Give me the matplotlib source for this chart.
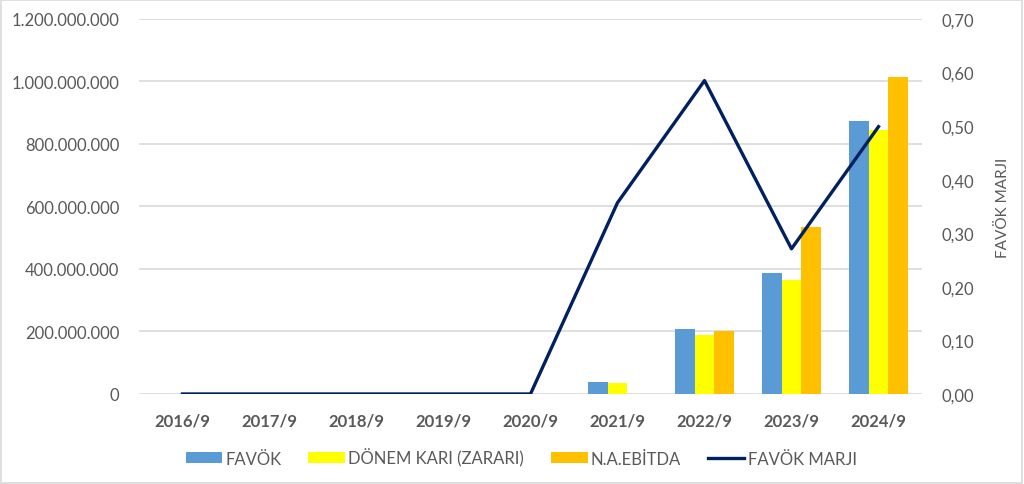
import matplotlib.pyplot as plt
import numpy as np
from matplotlib.ticker import FuncFormatter
from matplotlib.patches import Rectangle

plt.rcParams['font.family'] = ['Lato', 'DejaVu Sans']

# data
years = ['2016/9', '2017/9', '2018/9', '2019/9', '2020/9', '2021/9', '2022/9', '2023/9', '2024/9']
favok = [0, 0, 0, 0, 0, 37e6, 207e6, 387e6, 873e6]
donem_kari = [0, 0, 0, 0, 0, 35e6, 189e6, 365e6, 846e6]
na_ebitda = [0, 0, 0, 0, 0, 0, 202e6, 533e6, 1013e6]
favok_marji = [0, 0, 0, 0, 0, 0.357, 0.585, 0.271, 0.499]

grey = '#595959'
fig = plt.figure(figsize=(10.24, 4.85), dpi=100)
fig.patches.append(Rectangle((0.001, 0.002), 0.997, 0.995, transform=fig.transFigure,
                             fill=False, edgecolor='#d9d9d9', linewidth=1.2))
ax = fig.add_axes([0.1357, 0.1856, 0.7647, 0.7732])

x = np.arange(len(years))
w = 0.225
ax.bar(x - w, favok, w, color='#5B9BD5', label='FAVÖK', zorder=3)
ax.bar(x, donem_kari, w, color='#FFFF00', label='DÖNEM KARI (ZARARI)', zorder=3)
ax.bar(x + w, na_ebitda, w, color='#FFC000', label='N.A.EBİTDA', zorder=3)

ax.set_xlim(-0.5, len(years) - 0.5)
ax.set_ylim(0, 1.2e9)
ax.set_yticks(np.arange(0, 1.2e9 + 1, 2e8))
ax.yaxis.set_major_formatter(FuncFormatter(lambda v, p: f'{int(v):,}'.replace(',', '.')))
ax.grid(axis='y', color='#d9d9d9', linewidth=1.2, zorder=0)
ax.set_xticks(x)
ax.set_xticklabels(years, fontweight='bold')
for s in ax.spines.values():
    s.set_visible(False)
ax.tick_params(length=0, colors=grey, labelsize=12)
ax.tick_params(axis='x', pad=13)
ax.tick_params(axis='y', pad=14)

ax2 = ax.twinx()
ax2.plot(x, favok_marji, color='#002060', linewidth=2.4, label='FAVÖK MARJI', zorder=4)
ax2.set_ylim(0, 0.7)
ax2.set_yticks(np.arange(0, 0.71, 0.1))
ax2.yaxis.set_major_formatter(FuncFormatter(lambda v, p: f'{v:.2f}'.replace('.', ',')))
for s in ax2.spines.values():
    s.set_visible(False)
ax2.tick_params(length=0, colors=grey, labelsize=12, pad=14)
ax2.set_ylabel('FAVÖK MARJI', color=grey, fontsize=11, labelpad=16)

h1, l1 = ax.get_legend_handles_labels()
h2, l2 = ax2.get_legend_handles_labels()
fig.legend(h1 + h2, l1 + l2, loc='center', bbox_to_anchor=(0.509, 0.055), ncol=4,
           frameon=False, fontsize=12, labelcolor=grey, handlelength=2.2,
           handleheight=0.6, handletextpad=0.2, columnspacing=1.6)

fig.savefig('out.png', dpi=100, facecolor='white')
